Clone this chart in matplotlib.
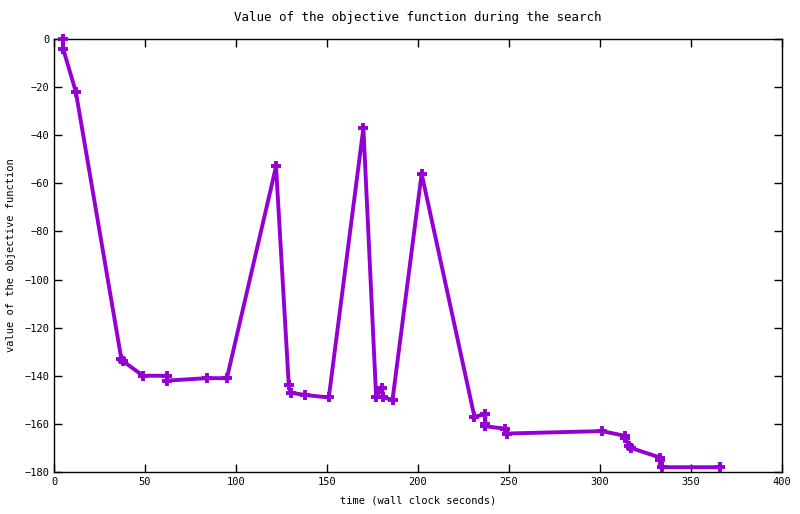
import matplotlib
matplotlib.use("Agg")
import matplotlib.pyplot as plt

# search trace
times = [5, 5, 12, 37, 38, 49, 62, 62, 84, 95, 122, 129, 130, 138, 151, 170,
         177, 180, 181, 186, 202, 231, 237, 237, 237, 248, 249, 301, 314, 314,
         316, 317, 333, 333, 334, 366]
values = [0, -4, -22, -133, -134, -140, -140, -142, -141, -141, -53, -144, -147,
          -148, -149, -37, -149, -145, -149, -150, -56, -157, -156, -160, -161,
          -162, -164, -163, -165, -166, -169, -170, -174, -175, -178, -178]

xticks = [0, 50, 100, 150, 200, 250, 300, 350, 400]
yticks = [0, -20, -40, -60, -80, -100, -120, -140, -160, -180]

plt.rcParams['font.family'] = ['DejaVu Sans Mono']
plt.rcParams['font.size'] = 7.5

fig = plt.figure(figsize=(8, 5.14), dpi=100)
ax = fig.add_axes([0.0675, 0.0817, 0.91, 0.8425])

ax.plot(times, values, color="#9400D3", linewidth=2.8, marker="+",
        markersize=7.5, markeredgewidth=2.8, clip_on=False, zorder=3)

ax.set_xlim(0, 400)
ax.set_ylim(-180, 0)
ax.set_xticks(xticks)
ax.set_yticks(yticks)
ax.tick_params(direction="in", top=True, right=True, length=6, width=1)
for s in ax.spines.values():
    s.set_linewidth(1)

ax.set_title("Value of the objective function during the search", pad=13)
ax.set_xlabel("time (wall clock seconds)", labelpad=6)
ax.set_ylabel("value of the objective function", labelpad=6)

fig.savefig("out.png", dpi=100)
